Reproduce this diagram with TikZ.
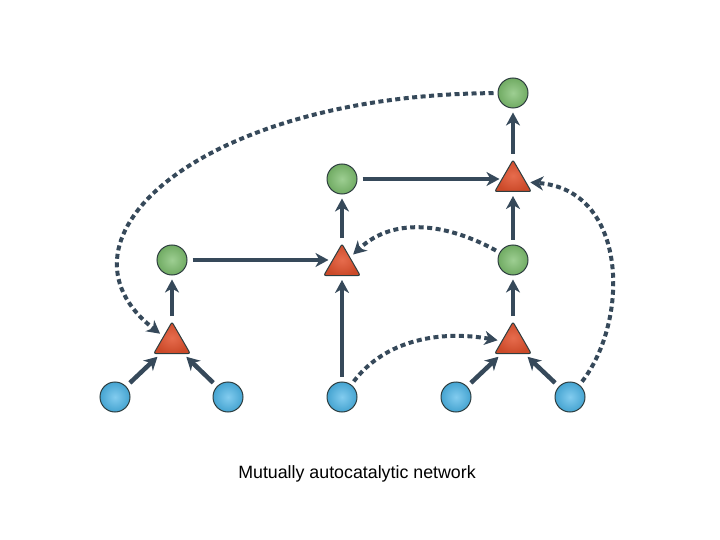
\documentclass[tikz,border=0pt]{standalone}
\usepackage{fontspec}
\setmainfont{Liberation Sans}
\usetikzlibrary{arrows.meta,shapes.geometric}
\definecolor{edgec}{HTML}{36495A}
\definecolor{bluec}{HTML}{4DB6E8}
\definecolor{greenc}{HTML}{7DBE6E}
\definecolor{redc}{HTML}{E2522E}
\definecolor{rimc}{HTML}{2E3E40}
\begin{document}
\begin{tikzpicture}[x=1pt,y=-1pt,
  food/.style={circle,draw=rimc,line width=1pt,inner color=bluec!70!white,outer color=bluec!90!black,minimum size=30pt,inner sep=0pt},
  prod/.style={circle,draw=rimc,line width=1pt,inner color=greenc!75!white,outer color=greenc!90!black,minimum size=30pt,inner sep=0pt},
  reac/.style={regular polygon,regular polygon sides=3,draw=rimc,line width=1pt,inner color=redc!85!white,outer color=redc!90!black,minimum size=42pt,inner sep=0pt,rounded corners=2pt},
  flow/.style={draw=edgec,line width=4.5pt,-{Stealth[length=13pt,width=14pt,inset=4pt]},shorten <=5pt,shorten >=4pt},
  cat/.style={draw=edgec,line width=4pt,dash pattern=on 5pt off 3.5pt,-{Stealth[length=13pt,width=14pt,inset=4pt]},shorten <=4pt,shorten >=4pt}
]
\useasboundingbox (0,0) rectangle (720,540);
% nodes
\node[food] (b1) at (115,397) {};
\node[food] (b2) at (228,397) {};
\node[food] (b3) at (342,397) {};
\node[food] (b4) at (456,397) {};
\node[food] (b5) at (570,397) {};
\node[reac] (t1) at (172,343) {};
\node[reac] (t2) at (342,265) {};
\node[reac] (t3) at (513,343) {};
\node[reac] (t4) at (513,181) {};
\node[prod] (g1) at (172,260) {};
\node[prod] (g2) at (342,179) {};
\node[prod] (g3) at (513,260) {};
\node[prod] (g4) at (513,93) {};
% solid flows
\draw[flow] (b1) -- (t1);
\draw[flow] (b2) -- (t1);
\draw[flow] (t1.corner 1) -- (g1);
\draw[flow] (g1) -- (g1 -| t2.side 1);
\draw[flow] (b3) -- (t2.side 2);
\draw[flow] (t2.corner 1) -- (g2);
\draw[flow] (g2) -- (g2 -| t4.side 1);
\draw[flow] (b4) -- (t3);
\draw[flow] (b5) -- (t3);
\draw[flow] (t3.corner 1) -- (g3);
\draw[flow] (g3) -- (t4.side 2);
\draw[flow] (t4.corner 1) -- (g4);
% catalysis
\draw[cat] (g4) .. controls (200,95) and (40,240) .. (t1);
\draw[cat] (b3) .. controls (385,340) and (440,330) .. (t3);
\draw[cat] (g3) .. controls (450,225) and (395,215) .. (t2);
\draw[cat] (b5) .. controls (630,320) and (628,190) .. (t4);
% caption
\node[anchor=base,font=\fontsize{17.8}{20}\selectfont,inner sep=0pt] (cap) at (357,478) {Mutually autocatalytic network};
\end{tikzpicture}
\end{document}
